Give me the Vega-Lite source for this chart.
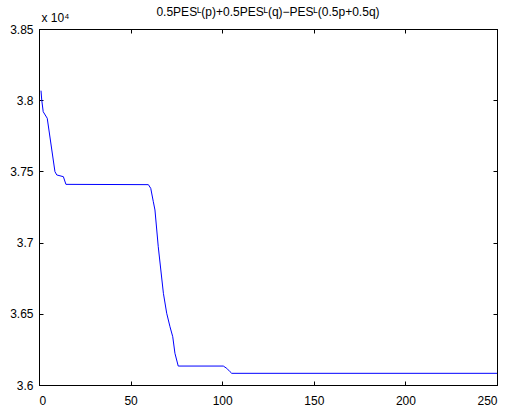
{
  "$schema": "https://vega.github.io/schema/vega-lite/v6.json",
  "width": 458,
  "height": 356,
  "autosize": {"type": "none"},
  "padding": {"left": 39, "top": 29, "right": 10, "bottom": 27},
  "background": "white",
  "title": {
    "text": "0.5PESᴸ(p)+0.5PESᴸ(q)−PESᴸ(0.5p+0.5q)",
    "font": "Liberation Sans",
    "fontSize": 12,
    "fontWeight": "normal",
    "color": "black",
    "offset": -8
  },
  "data": {
    "values": [
      {"iter": 1.1, "value": 38067},
      {"iter": 1.5, "value": 38001},
      {"iter": 2.3, "value": 37919},
      {"iter": 4.5, "value": 37873},
      {"iter": 8.7, "value": 37498},
      {"iter": 9.7, "value": 37475},
      {"iter": 13.3, "value": 37463},
      {"iter": 14.7, "value": 37409},
      {"iter": 59.7, "value": 37407},
      {"iter": 61, "value": 37381},
      {"iter": 62.4, "value": 37287},
      {"iter": 63.3, "value": 37229},
      {"iter": 65.1, "value": 36971},
      {"iter": 67.9, "value": 36644},
      {"iter": 69.7, "value": 36504},
      {"iter": 71.5, "value": 36409},
      {"iter": 73, "value": 36339},
      {"iter": 74.2, "value": 36223},
      {"iter": 76, "value": 36133},
      {"iter": 100.6, "value": 36133},
      {"iter": 102.5, "value": 36117},
      {"iter": 104.3, "value": 36093},
      {"iter": 105.2, "value": 36082},
      {"iter": 250, "value": 36082}
    ]
  },
  "layer": [
    {
      "mark": {"type": "line", "color": "#0000ff", "strokeWidth": 1, "clip": true},
      "encoding": {
        "x": {
          "field": "iter", "type": "quantitative",
          "scale": {"domain": [0, 250], "nice": false, "zero": false},
          "axis": {"orient": "bottom", "values": [0, 50, 100, 150, 200, 250], "title": null}
        },
        "y": {
          "field": "value", "type": "quantitative",
          "scale": {"domain": [36000, 38500], "nice": false, "zero": false},
          "axis": {
            "orient": "left",
            "values": [36000, 36500, 37000, 37500, 38000, 38500],
            "labelExpr": "format(datum.value/10000, '.3~g')",
            "title": "x 10⁴",
            "titleAngle": 0,
            "titleX": 2,
            "titleY": -8,
            "titleAlign": "left",
            "titleBaseline": "alphabetic",
            "titleFont": "Liberation Sans",
            "titleFontSize": 12,
            "titleFontWeight": "normal",
            "titleColor": "black"
          }
        }
      }
    },
    {
      "mark": {"type": "line", "opacity": 0},
      "encoding": {
        "x": {
          "field": "iter", "type": "quantitative",
          "axis": {"orient": "top", "values": [0, 50, 100, 150, 200, 250], "labels": false, "title": null}
        },
        "y": {
          "field": "value", "type": "quantitative",
          "axis": {"orient": "right", "values": [36000, 36500, 37000, 37500, 38000, 38500], "labels": false, "title": null}
        }
      }
    }
  ],
  "resolve": {"axis": {"x": "independent", "y": "independent"}},
  "config": {
    "view": {"stroke": "black", "strokeWidth": 1},
    "axis": {
      "grid": false,
      "domainColor": "black",
      "domainWidth": 1,
      "tickColor": "black",
      "tickSize": -4,
      "tickWidth": 1,
      "labelFont": "Liberation Sans",
      "labelFontSize": 12,
      "labelColor": "black"
    },
    "axisX": {"labelPadding": 14},
    "axisY": {"labelPadding": 10}
  }
}
